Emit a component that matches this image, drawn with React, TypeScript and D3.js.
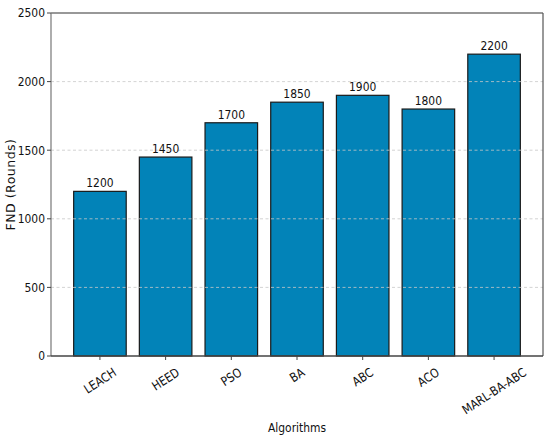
import { useEffect, useRef } from 'react';
import * as d3 from 'd3';

const algorithms = ['LEACH', 'HEED', 'PSO', 'BA', 'ABC', 'ACO', 'MARL-BA-ABC'];
const fndRounds = [1200, 1450, 1700, 1850, 1900, 1800, 2200];
const yTicks = [0, 500, 1000, 1500, 2000, 2500];

const W = 550;
const H = 443;
const SX = 0.86; // text in the source looks squeezed horizontally

export default function App() {
  const ref = useRef<SVGSVGElement>(null);

  useEffect(() => {
    if (!ref.current) return;
    const svg = d3.select(ref.current);
    svg.selectAll('*').remove();

    const m = { top: 13, right: 7, bottom: 87, left: 51 };
    const x0 = m.left;
    const x1 = W - m.right;
    const y0 = H - m.bottom;
    const y1 = m.top;
    const font = '"DejaVu Sans", sans-serif';

    const x = d3.scaleBand<string>().domain(algorithms).range([x0, x1]).paddingInner(0.2).paddingOuter(0.345);
    const y = d3.scaleLinear().domain([0, 2500]).range([y0, y1]);

    // bars
    svg
      .selectAll('rect.bar')
      .data(fndRounds)
      .enter()
      .append('rect')
      .attr('class', 'bar')
      .attr('x', (_, i) => x(algorithms[i])!)
      .attr('y', (d) => y(d))
      .attr('width', x.bandwidth())
      .attr('height', (d) => y0 - y(d))
      .attr('fill', '#0283b8')
      .attr('stroke', '#1a1a1a')
      .attr('stroke-width', 1.2);

    // dashed grid on top of bars
    svg
      .selectAll('line.grid')
      .data(yTicks.filter((t) => t > 0 && t < 2500))
      .enter()
      .append('line')
      .attr('x1', x0)
      .attr('x2', x1)
      .attr('y1', (d) => y(d))
      .attr('y2', (d) => y(d))
      .attr('stroke', '#c8c8c8')
      .attr('stroke-width', 0.8)
      .attr('stroke-dasharray', '3,2.5');

    // value labels
    svg
      .selectAll('text.val')
      .data(fndRounds)
      .enter()
      .append('text')
      .attr('transform', (d, i) => `translate(${x(algorithms[i])! + x.bandwidth() / 2},${y(d) - 4}) scale(${SX},1)`)
      .attr('text-anchor', 'middle')
      .attr('font-family', font)
      .attr('font-size', 12.5)
      .attr('fill', '#111')
      .text((d) => d);

    // frame
    svg.append('line').attr('x1', x0).attr('x2', x1).attr('y1', y1).attr('y2', y1).attr('stroke', '#333').attr('stroke-width', 1.2);
    svg.append('line').attr('x1', x1).attr('x2', x1).attr('y1', y1).attr('y2', y0).attr('stroke', '#555').attr('stroke-width', 1.2);
    svg.append('line').attr('x1', x0).attr('x2', x0).attr('y1', y1).attr('y2', y0).attr('stroke', '#777').attr('stroke-width', 1.2);
    svg.append('line').attr('x1', x0).attr('x2', x1).attr('y1', y0).attr('y2', y0).attr('stroke', '#444').attr('stroke-width', 1.3);

    // y ticks
    const yt = svg.selectAll('g.yt').data(yTicks).enter().append('g');
    yt.append('line')
      .attr('x1', x0 - 4)
      .attr('x2', x0)
      .attr('y1', (d) => y(d))
      .attr('y2', (d) => y(d))
      .attr('stroke', '#444');
    yt.append('text')
      .attr('transform', (d) => `translate(${x0 - 6},${y(d)}) scale(${SX},1)`)
      .attr('dy', '0.35em')
      .attr('text-anchor', 'end')
      .attr('font-family', font)
      .attr('font-size', 12.5)
      .attr('fill', '#111')
      .text((d) => d);

    // x ticks, rotated and centred under the tick
    algorithms.forEach((a) => {
      const cx = x(a)! + x.bandwidth() / 2;
      svg.append('line').attr('x1', cx).attr('x2', cx).attr('y1', y0).attr('y2', y0 + 4).attr('stroke', '#444');
      const t = svg
        .append('text')
        .attr('text-anchor', 'middle')
        .attr('dy', '0.35em')
        .attr('font-family', font)
        .attr('font-size', 12.5)
        .attr('fill', '#111')
        .text(a);
      const w = (t.node() as SVGTextElement).getComputedTextLength() * SX;
      const h = 9.5;
      const half = (w * 0.545 + h * 0.839) / 2;
      t.attr('transform', `translate(${cx},${y0 + 11 + half}) rotate(-33) scale(${SX},1)`);
    });

    // axis titles
    svg
      .append('text')
      .attr('transform', `translate(${(x0 + x1) / 2},432) scale(${SX},1)`)
      .attr('text-anchor', 'middle')
      .attr('font-family', font)
      .attr('font-size', 12.5)
      .attr('fill', '#111')
      .text('Algorithms');
    svg
      .append('text')
      .attr('transform', `translate(15,${(y0 + y1) / 2}) rotate(-90)`)
      .attr('text-anchor', 'middle')
      .attr('font-family', font)
      .attr('font-size', 12.5)
      .attr('letter-spacing', 0.5)
      .attr('fill', '#111')
      .text('FND (Rounds)');
  }, []);

  return (
    <svg
      ref={ref}
      width={W}
      height={H}
      style={{ position: 'absolute', left: 0, top: 0, background: '#fff' }}
      role="img"
      aria-label="FND rounds by algorithm"
    />
  );
}
